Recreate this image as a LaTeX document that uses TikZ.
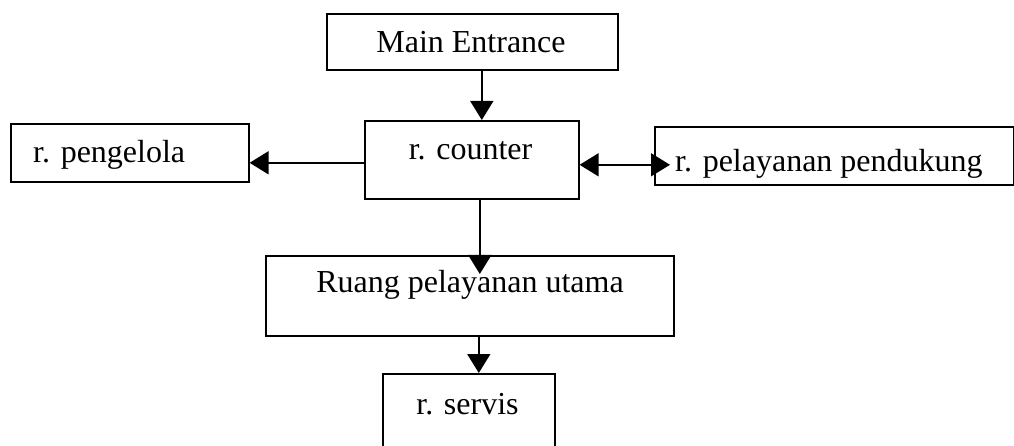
\documentclass[tikz,border=0pt]{standalone}
\usepackage{fontspec}
\setmainfont{Liberation Serif}
\usetikzlibrary{arrows.meta}
\begin{document}
\begin{tikzpicture}[x=1pt,y=-1pt,
  box/.style={draw,line width=1.6pt,inner sep=0pt,anchor=north west},
  lbl/.style={anchor=base,inner sep=0pt,font=\fontsize{32}{38}\selectfont},
  tip/.tip={Triangle[length=19pt,width=23pt]},
  conn/.style={line width=1.6pt,-tip}]
\useasboundingbox (0,0) rectangle (1014,446);
% boxes
\node[box,minimum width=291pt,minimum height=56pt] (main) at (326,13) {};
\node[box,minimum width=214pt,minimum height=78pt] (counter) at (364,120) {};
\node[box,minimum width=238pt,minimum height=58pt] (peng) at (10,123) {};
\node[box,minimum width=359pt,minimum height=58pt] (pend) at (654,126) {};
\node[box,minimum width=408pt,minimum height=80pt] (ruang) at (265,255) {};
\node[box,minimum width=172pt,minimum height=100pt] (servis) at (382,373) {};
% texts
\node[lbl] (tmain) at (471,53) {Main Entrance};
\node[lbl] (tcounter) at (470.5,160) {r. counter};
\node[lbl,anchor=base west] (tpeng) at (33,163) {r. pengelola};
\node[lbl,anchor=base west] (tpend) at (675,172) {r. pelayanan pendukung};
\node[lbl] (truang) at (470,292) {Ruang pelayanan utama};
\node[lbl] (tservis) at (467.5,414) {r. servis};
% connectors
\draw[conn] ([xshift=9.5pt]main.south) -- ([xshift=9.5pt]main.south |- counter.north);
\draw[conn] ([yshift=-3pt]counter.west) -- ([yshift=-3pt]counter.west -| peng.east);
\draw[conn,tip-tip,shorten >=-16pt] ([yshift=-5pt]counter.east) -- ([yshift=-5pt]counter.east -| pend.west);
\draw[conn,shorten >=-19pt] ([xshift=8pt]counter.south) -- ([xshift=8pt]counter.south |- ruang.north);
\draw[conn] ([xshift=9pt]ruang.south) -- ([xshift=9pt]ruang.south |- servis.north);
\end{tikzpicture}
\end{document}
